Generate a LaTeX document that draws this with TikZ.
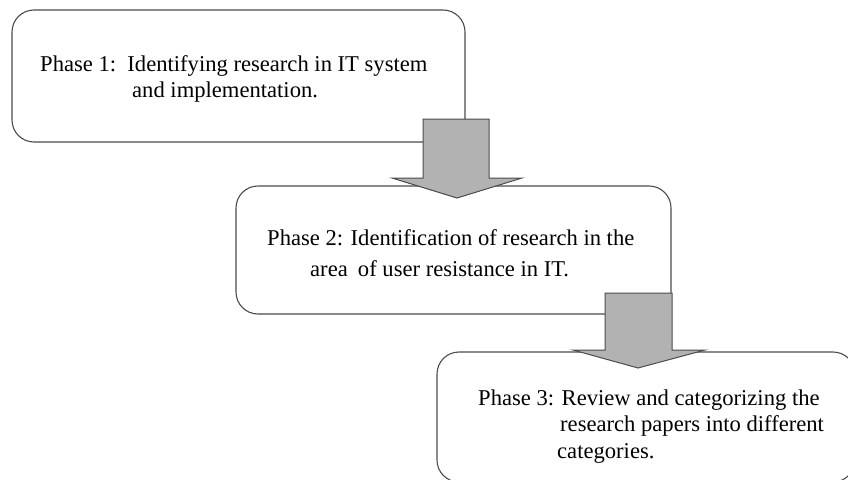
\documentclass[tikz,border=0pt]{standalone}
\usepackage{fontspec}
\setmainfont{Liberation Serif}
\begin{document}
\begin{tikzpicture}[x=1pt,y=-1pt,
  phasebox/.style={draw=black!70, line width=1.1pt, rounded corners=22pt, fill=white, rectangle, inner sep=0pt},
  blockarrow/.style={draw=black!70, line width=1pt, fill=black!30, line join=miter},
  label/.style={anchor=base west, inner sep=0pt, font=\fontsize{22.6}{26}\selectfont}]
\useasboundingbox (0,0) rectangle (848,479);
\begin{scope}
\clip (0,0) rectangle (848,479);
% boxes
\node[phasebox, minimum width=453pt, minimum height=132pt] (b1) at (238.5,76) {};
\node[phasebox, minimum width=435pt, minimum height=128pt] (b2) at (453.5,250) {};
\node[phasebox, minimum width=418pt, minimum height=130pt] (b3) at (646,417) {};
% arrows
\draw[blockarrow] (423,119) -- (489,119) -- (489,178) -- (522,178) -- (457,198) -- (392,178) -- (423,178) -- cycle;
\draw[blockarrow] (605,293) -- (672,293) -- (672,350) -- (705,350) -- (638,368) -- (573,350) -- (605,350) -- cycle;
\end{scope}
% texts
\node[label] (t1a) at (40,71.5) {Phase 1:\ \ Identifying research in IT system};
\node[label] (t1b) at (132,97) {and implementation.};
\node[label] (t2a) at (267,245) {Phase 2: Identification of research in the};
\node[label] (t2b) at (310,276.5) {area\hspace{0.45em}of user resistance in IT.};
\node[label] (t3a) at (478,405) {Phase 3: Review and categorizing the};
\node[label] (t3b) at (560,431.5) {research papers into different};
\node[label] (t3c) at (557,458) {categories.};
\end{tikzpicture}
\end{document}
